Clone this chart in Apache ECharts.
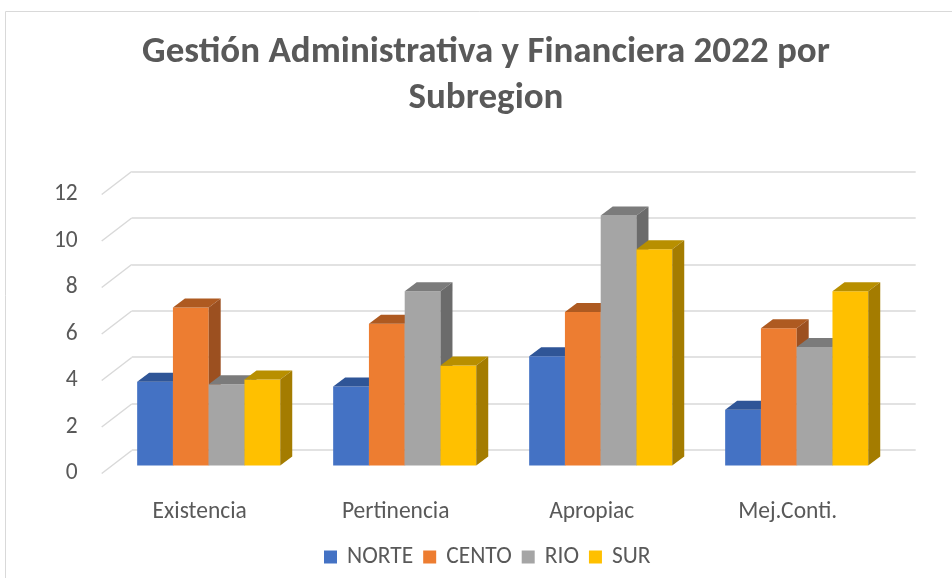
<!DOCTYPE html>
<html>
<head>
<meta charset="utf-8">
<script src="https://cdn.jsdelivr.net/npm/echarts@6/dist/echarts.min.js"></script>
<style>
  html, body { margin: 0; padding: 0; background: #fff; }
  #chart { width: 952px; height: 578px; }
</style>
</head>
<body>
<div id="chart"></div>
<script>
const categories = ['Existencia', 'Pertinencia', 'Apropiac', 'Mej.Conti.'];
const seriesNames = ['NORTE', 'CENTO', 'RIO', 'SUR'];
const norte = [3.6, 3.4, 4.7, 2.4];
const cento = [6.8, 6.1, 6.6, 5.9];
const rio = [3.5, 7.5, 10.75, 5.1];
const sur = [3.7, 4.3, 9.3, 7.5];
const yTicks = [0, 2, 4, 6, 8, 10, 12];

// front / top / side shades per series
const faceColors = [
    ['#4472C4', '#2F5597', '#2B4E8C'],
    ['#ED7D31', '#AE5A21', '#9C5020'],
    ['#A5A5A5', '#7B7B7B', '#6B6B6B'],
    ['#FFC000', '#B88F00', '#A47C00'],
];
const seriesValues = [norte, cento, rio, sur];

const DEPTH_X = 30, DEPTH_Y = -23;   // wall depth
const BAR_DX = 12, BAR_DY = -9;      // bar depth
const BAR_OFF_X = 9, BAR_OFF_Y = -8; // bars sit a bit behind the front plane
const TEXT = '#595959';
const FONT = 'Carlito, "Open Sans", sans-serif';

const chart = echarts.init(document.getElementById('chart'));

const barRenderer = (idx) => (params, api) => {
    const cat = api.value(0);
    const v = api.value(1);
    const band = api.size([1, 0])[0];
    const groupW = band * 0.73;
    const bw = groupW / 4;
    const base = api.coord([cat, 0]);
    const top = api.coord([cat, v]);
    const x0 = base[0] - groupW / 2 + idx * bw + BAR_OFF_X;
    const yb = base[1] + BAR_OFF_Y;
    const yt = top[1] + BAR_OFF_Y;
    const c = faceColors[idx];
    return {
        type: 'group',
        children: [
            { type: 'rect', shape: { x: x0, y: yt, width: bw, height: yb - yt }, style: { fill: c[0] } },
            { type: 'polygon', shape: { points: [[x0, yt], [x0 + bw, yt], [x0 + bw + BAR_DX, yt + BAR_DY], [x0 + BAR_DX, yt + BAR_DY]] }, style: { fill: c[1] } },
            { type: 'polygon', shape: { points: [[x0 + bw, yt], [x0 + bw + BAR_DX, yt + BAR_DY], [x0 + bw + BAR_DX, yb + BAR_DY], [x0 + bw, yb]] }, style: { fill: c[2] } },
        ],
    };
};

const barSeries = seriesNames.map((name, i) => ({
    name,
    type: 'custom',
    xAxisIndex: 1,
    yAxisIndex: 1,
    itemStyle: { color: faceColors[i][0] },
    renderItem: barRenderer(i),
    data: seriesValues[i].map((v, k) => [k, v]),
    z: 3,
}));

chart.setOption({
    animation: false,
    graphic: [{
        type: 'rect', left: 3, top: 9,
        shape: { width: 1000, height: 1000 },
        style: { fill: 'none', stroke: '#d9d9d9', lineWidth: 1 },
    }],
    title: {
        text: 'Gestión Administrativa y Financiera 2022 por\nSubregion',
        left: 486,
        textAlign: 'center',
        top: 30,
        padding: 0,
        textStyle: { fontFamily: FONT, fontSize: 37, fontWeight: 'bold', color: TEXT, lineHeight: 46 },
    },
    legend: {
        data: seriesNames,
        top: 540,
        left: 319,
        icon: 'rect',
        itemWidth: 13,
        itemHeight: 13,
        itemGap: 10,
        textStyle: { fontFamily: FONT, fontSize: 23.5, color: TEXT, padding: [0, 0, 0, 5] },
    },
    grid: [
        // back wall
        { left: 131.7, top: 171.7, width: 784, height: 278.3 },
        // front plane
        { left: 101.7, top: 194.5, width: 784, height: 279 },
    ],
    xAxis: [
        { type: 'category', gridIndex: 0, data: categories, show: false },
        {
            type: 'category', gridIndex: 1, data: categories,
            axisLine: { show: false }, axisTick: { show: false },
            axisLabel: { fontFamily: FONT, fontSize: 23.5, color: TEXT, margin: 27 },
        },
    ],
    yAxis: [
        {
            type: 'value', gridIndex: 0, min: 0, max: 12, interval: 2,
            axisLabel: { show: false }, axisLine: { show: false }, axisTick: { show: false },
            splitLine: { lineStyle: { color: '#d9d9d9', width: 1.5 } },
        },
        {
            type: 'value', gridIndex: 1, min: 0, max: 12, interval: 2,
            axisLine: { show: false }, axisTick: { show: false }, splitLine: { show: false },
            axisLabel: { fontFamily: FONT, fontSize: 23.5, color: TEXT, margin: 24 },
        },
    ],
    series: [
        {
            type: 'custom',
            xAxisIndex: 1,
            yAxisIndex: 1,
            silent: true,
            z: 1,
            data: yTicks.map(t => [0, t]),
            renderItem: (params, api) => {
                const p = api.coord([0, api.value(1)]);
                const x = params.coordSys.x;
                return {
                    type: 'line',
                    shape: { x1: x, y1: p[1], x2: x + DEPTH_X, y2: p[1] + DEPTH_Y },
                    style: { stroke: '#d9d9d9', lineWidth: 1.5 },
                };
            },
        },
        ...barSeries,
    ],
});
</script>
</body>
</html>
